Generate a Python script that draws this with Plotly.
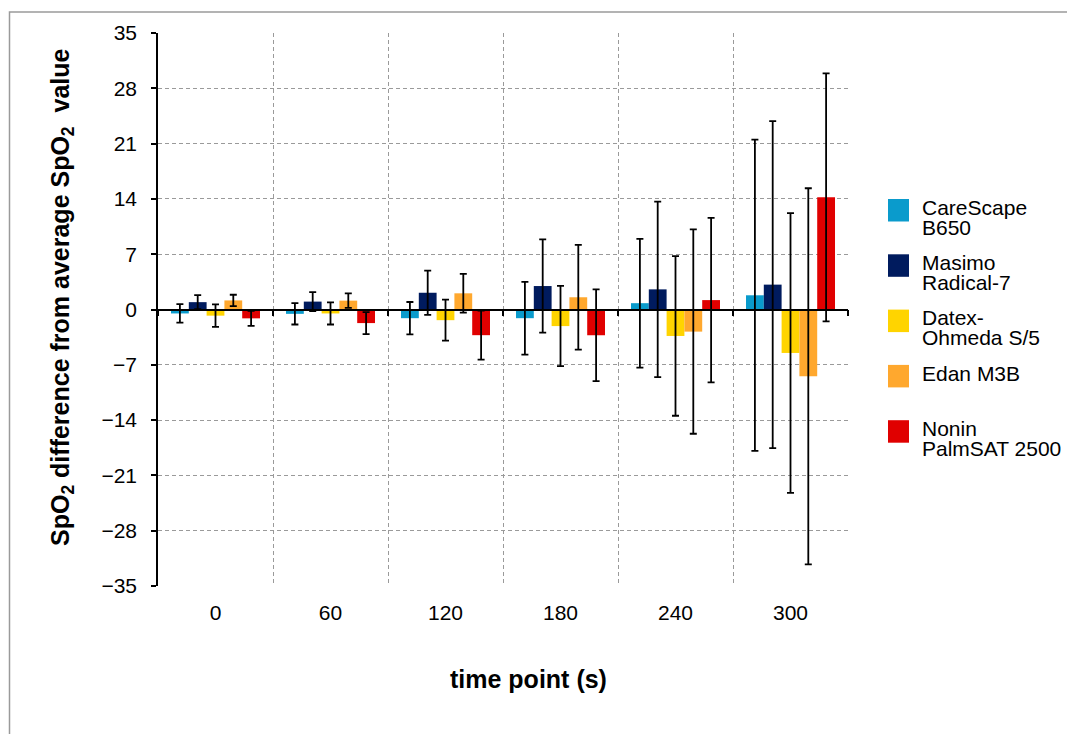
import plotly.graph_objects as go

# ---------------- data ----------------
categories = ["0", "60", "120", "180", "240", "300"]
series_names = ["CareScape B650", "Masimo Radical-7", "Datex-Ohmeda S/5", "Edan M3B", "Nonin PalmSAT 2500"]
legend_lines = [["CareScape", "B650"], ["Masimo", "Radical-7"], ["Datex-", "Ohmeda S/5"], ["Edan M3B"], ["Nonin", "PalmSAT 2500"]]
colors = ["#0A9BCC", "#001B5E", "#FFD400", "#FFA82E", "#E00000"]

carescape = [-0.5, -0.55, -1.1, -1.1, 0.8, 1.8]
carescape_err = [1.17, 1.35, 2.05, 4.6, 8.15, 19.7]
masimo = [0.93, 1.0, 2.12, 2.97, 2.55, 3.15]
masimo_err = [0.88, 1.2, 2.8, 5.9, 11.1, 20.7]
datex = [-0.78, -0.5, -1.35, -2.1, -3.35, -5.5]
datex_err = [1.42, 1.4, 2.6, 5.08, 10.1, 17.7]
edan = [1.15, 1.12, 2.05, 1.55, -2.8, -8.45]
edan_err = [0.72, 0.92, 2.45, 6.64, 12.93, 23.8]
nonin = [-1.12, -1.72, -3.25, -3.26, 1.19, 14.2]
nonin_err = [0.95, 1.39, 3.1, 5.8, 10.42, 15.7]

values = [carescape, masimo, datex, edan, nonin]
errors = [carescape_err, masimo_err, datex_err, edan_err, nonin_err]

y_min, y_max, y_step = -35, 35, 7

# ---------------- layout geometry ----------------
# the page body adds an 8px margin, so the figure is sized to fit the window
OFF = 8
W, H = 1075 - OFF, 742 - 2 * OFF
PLOT_X0, PLOT_X1, PLOT_Y0, PLOT_Y1 = 158, 848, 33, 586   # plot area in window pixels
L = PLOT_X0 - OFF
T = PLOT_Y0 - OFF
R = W + OFF - PLOT_X1
B = H + OFF - PLOT_Y1
PW, PH = PLOT_X1 - PLOT_X0, PLOT_Y1 - PLOT_Y0
FONT = "Liberation Sans, Arial, Helvetica, sans-serif"
LEG_SIZE = 21          # legend glyph size
LEG_LINE = 20          # legend line pitch in px


def px(x):
    return (x - PLOT_X0) / PW


def py(y):
    return (PLOT_Y1 - y) / PH


fig = go.Figure()
for name, vals, errs, col in zip(series_names, values, errors, colors):
    fig.add_trace(go.Bar(
        x=categories, y=vals, name=name,
        marker=dict(color=col, line=dict(width=0)),
        error_y=dict(type="data", array=errs, visible=True, color="black",
                     thickness=1.8, width=3.5),
        showlegend=False,
    ))

# invisible trace so the zero-line axis has the categories
fig.add_trace(go.Scatter(x=categories, y=[0] * len(categories), xaxis="x2", yaxis="y",
                         mode="markers", marker=dict(opacity=0), showlegend=False,
                         hoverinfo="skip"))

shapes = []
annotations = []

# outer border
shapes.append(dict(type="rect", xref="paper", yref="paper",
                   x0=px(9.5), x1=px(1100), y0=py(12), y1=py(780),
                   line=dict(color="#9a9a9a", width=1.5), fillcolor="rgba(0,0,0,0)",
                   layer="below"))

# manual legend (square swatches + tightly spaced two-line labels)
for i, (lines, col) in enumerate(zip(legend_lines, colors)):
    top = 199 + 55.3 * i
    shapes.append(dict(type="rect", xref="paper", yref="paper",
                       x0=px(888), x1=px(909), y0=py(top), y1=py(top + 22.5),
                       line=dict(width=0), fillcolor=col))
    txt = "<br>".join(f"<span style='font-size:{LEG_SIZE}px'>{t}</span>" for t in lines)
    n = len(lines)
    centre = top + 8.2 + (n - 1) * LEG_LINE / 2
    annotations.append(dict(xref="paper", yref="paper", x=px(921), y=py(centre),
                            xanchor="left", yanchor="middle", showarrow=False,
                            align="left", borderpad=0,
                            text=txt, font=dict(family=FONT, size=LEG_LINE / 1.3, color="black")))

# axis titles
annotations.append(dict(xref="paper", yref="paper", x=px(62), y=py(297),
                        xanchor="center", yanchor="middle", showarrow=False, textangle=-90,
                        text="<b>SpO<sub>2</sub> difference from average SpO<sub>2</sub>\u00a0\u00a0value</b>",
                        font=dict(family=FONT, size=25, color="black")))
annotations.append(dict(xref="paper", yref="paper", x=px(528), y=py(679),
                        xanchor="center", yanchor="middle", showarrow=False,
                        text="<b>time point (s)</b>",
                        font=dict(family=FONT, size=25, color="black")))

GRID = dict(showgrid=True, gridcolor="#9a9a9a", griddash="4px,3px", gridwidth=1)

fig.update_layout(
    width=W, height=H,
    margin=dict(l=L, r=R, t=T, b=B, pad=0),
    paper_bgcolor="white", plot_bgcolor="white",
    barmode="group", bargap=0.226, bargroupgap=0,
    font=dict(family=FONT, size=21, color="black"),
    showlegend=False,
    shapes=shapes, annotations=annotations,
    xaxis=dict(type="category", categoryorder="array", categoryarray=categories,
               range=[-0.5, len(categories) - 0.5],
               showline=False, ticks="", tickson="boundaries",
               tickfont=dict(family=FONT, size=21, color="black"),
               ticklabelstandoff=12, zeroline=False, **GRID),
    xaxis2=dict(type="category", categoryorder="array", categoryarray=categories,
                range=[-0.5, len(categories) - 0.5], overlaying="x", anchor="free",
                position=0.5, side="bottom",
                showline=True, linecolor="black", linewidth=1.5,
                ticks="outside", tickson="boundaries", ticklen=6, tickwidth=1.5,
                tickcolor="black", showticklabels=False, showgrid=False, zeroline=False),
    yaxis=dict(range=[y_min, y_max], tick0=0, dtick=y_step,
               showline=True, linecolor="black", linewidth=1.5,
               ticks="outside", ticklen=5, tickwidth=1.5, tickcolor="black",
               zeroline=False, tickfont=dict(family=FONT, size=21, color="black"),
               ticklabelstandoff=10, **GRID),
)

fig.write_html("out.html")
